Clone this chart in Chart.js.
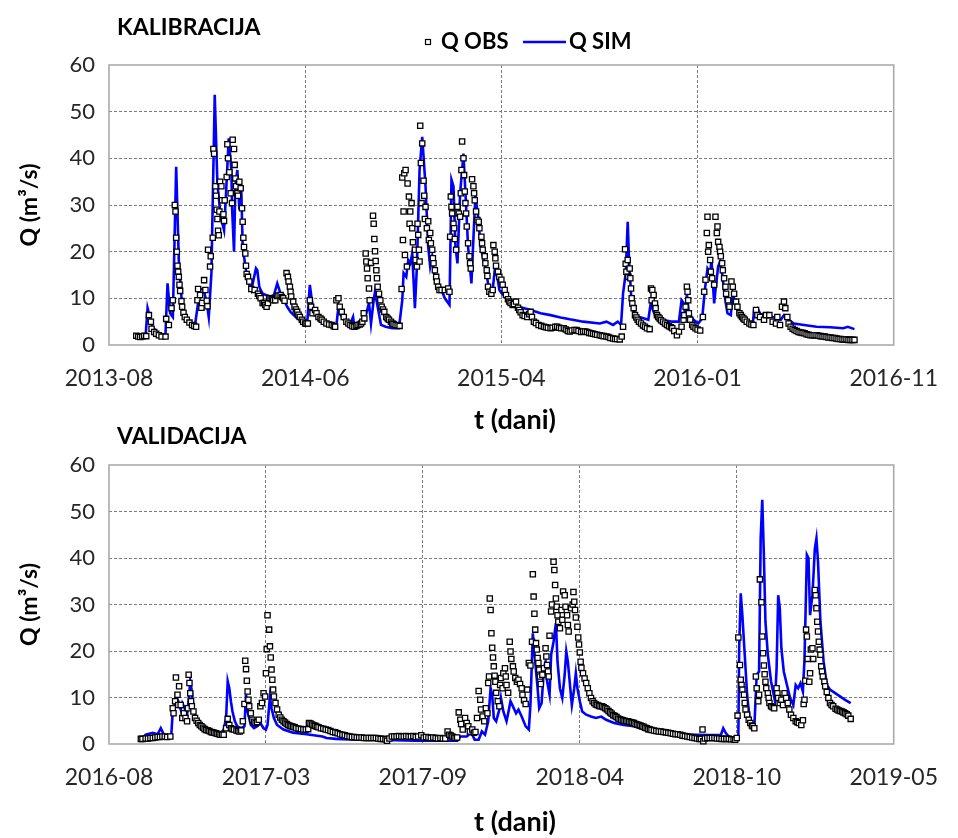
<!DOCTYPE html>
<html>
<head>
<meta charset="utf-8">
<script src="https://cdn.jsdelivr.net/npm/chart.js@4.4.1/dist/chart.umd.min.js"></script>
<style>
  html, body { margin: 0; padding: 0; background: #fff; }
  #wrap { position: relative; width: 958px; height: 838px; }
  canvas { position: absolute; left: 0; display: block; }
  #kalibracija { top: 0; }
  #validacija { top: 419px; }
</style>
</head>
<body>
<div id="wrap">
  <canvas id="kalibracija" width="958" height="450"></canvas>
  <canvas id="validacija" width="958" height="419"></canvas>
</div>
<script>
// Dani racunamo od prvog podioka osi x
const kalStart = Date.UTC(2013, 7, 25);
const kalStep = 295;
const valStart = Date.UTC(2016, 7, 25);
const valStep = 197;

const qTicks = [0, 10, 20, 30, 40, 50, 60];

// Kalibracija - izmjereni protok [dan, Q]
const kalObs = [
  [41,2.0],[44,1.8],[47,1.7],[50,1.8],[53,2.0],[56,1.9],[60,6.4],[63,5.0],[64,3.5],[68,2.8],[71,2.4],[75,2.1],[79,1.8],
  [85,1.8],[86,5.6],[90,4.3],[94,7.9],[96,9.6],[99,30.0],[100,28.6],[101,23.0],[102,20.0],[103,17.0],[104,15.7],[105,14.6],
  [106,12.9],[107,11.6],[109,9.4],[110,8.2],[112,6.9],[114,6.0],[117,5.4],[121,4.8],[125,4.3],[128,4.1],[131,3.9],[133,9.6],
  [134,12.0],[137,10.7],[139,8.0],[140,9.0],[143,13.9],[145,11.8],[147,9.5],[148,8.3],[149,20.4],[152,16.8],[153,19.0],
  [156,23.0],[157,42.0],[158,41.0],[160,34.0],[161,32.0],[162,29.0],[163,27.0],[164,24.5],[165,23.5],[166,28.6],[167,35.0],
  [169,34.0],[170,31.0],[172,28.0],[173,26.6],[174,31.0],[177,36.0],[178,43.0],[179,40.0],[181,37.0],[183,32.5],[185,30.4],
  [186,44.0],[188,42.0],[189,38.6],[190,35.7],[191,34.0],[193,32.5],[194,32.0],[196,35.0],[198,33.6],[200,29.3],[201,26.4],
  [202,23.0],[203,21.0],[205,19.6],[206,17.0],[207,15.2],[209,14.6],[211,13.6],[214,12.0],[219,11.8],[224,11.0],[226,10.5],
  [228,10.0],[231,9.0],[233,9.0],[235,8.6],[237,8.2],[239,9.0],[241,10.0],[243,10.0],[245,9.8],[247,9.6],[250,9.6],[253,10.5],
  [255,10.6],[258,10.7],[260,10.3],[262,10.0],[264,9.5],[267,15.4],[269,14.6],[270,13.6],[272,12.5],[273,11.4],[274,10.4],
  [277,9.3],[279,8.2],[281,7.6],[283,7.1],[285,6.5],[287,6.0],[290,5.4],[292,5.0],[295,4.6],[297,4.6],[299,4.6],[302,9.6],
  [304,8.2],[306,6.8],[310,7.5],[312,6.8],[315,6.0],[318,5.7],[320,5.4],[323,5.0],[327,4.6],[331,4.4],[335,4.3],[338,4.0],
  [340,3.9],[342,9.6],[345,10.0],[347,8.2],[350,7.1],[353,6.0],[357,5.0],[360,4.6],[363,4.3],[366,4.0],[369,3.9],[372,4.1],
  [374,4.3],[377,4.4],[379,4.6],[381,5.0],[383,6.8],[384,5.7],[386,19.6],[387,17.9],[388,16.4],[389,14.3],[391,12.1],[392,9.6],
  [394,17.6],[397,27.7],[398,26.0],[399,22.7],[400,20.1],[401,18.0],[402,16.0],[403,14.3],[404,12.5],[406,11.0],[408,9.6],
  [410,8.2],[412,7.6],[414,7.1],[417,6.0],[419,5.7],[421,5.4],[424,5.0],[426,4.6],[428,4.5],[431,4.3],[434,4.2],[437,4.1],
  [440,12.0],[441,35.9],[442,22.5],[443,28.6],[444,36.8],[445,19.3],[446,37.5],[448,16.8],[449,34.6],[451,31.8],[452,26.0],
  [453,28.6],[455,30.4],[456,25.0],[457,22.0],[460,20.4],[461,18.2],[463,16.8],[464,26.0],[465,23.6],[466,20.4],[467,17.9],
  [468,47.0],[469,39.0],[470,30.4],[471,43.2],[473,35.2],[474,32.0],[475,27.0],[476,29.6],[478,25.0],[480,26.5],[481,22.5],
  [483,24.0],[484,21.8],[486,20.4],[487,18.6],[488,17.5],[490,16.0],[492,14.6],[493,13.6],[495,12.5],[497,11.8],[500,11.8],
  [505,11.8],[510,12.1],[512,11.4],[513,23.2],[514,31.8],[515,29.6],[516,28.2],[518,26.0],[519,25.0],[520,22.7],[522,20.4],
  [524,29.6],[526,28.2],[528,27.5],[529,32.5],[530,37.5],[531,43.6],[533,40.0],[534,36.4],[535,32.9],[536,30.4],[537,28.2],
  [538,25.4],[540,21.8],[542,19.0],[543,17.5],[544,16.4],[546,35.5],[548,34.0],[549,32.5],[550,31.0],[552,28.6],[554,26.8],
  [556,26.4],[557,25.0],[560,23.2],[561,21.8],[562,20.4],[565,19.0],[566,17.5],[568,16.0],[569,14.8],[570,12.5],[572,11.4],
  [575,11.0],[577,11.8],[578,21.4],[580,20.0],[581,18.6],[582,17.0],[585,15.7],[587,14.6],[590,14.0],[592,12.9],[595,11.8],
  [597,10.7],[600,9.8],[602,9.3],[604,9.0],[607,8.6],[609,8.8],[612,9.3],[615,8.0],[617,7.5],[619,7.0],[622,6.4],[625,6.2],
  [629,6.0],[632,6.6],[634,7.1],[636,6.0],[639,5.0],[642,4.7],[646,4.3],[650,4.1],[654,3.9],[657,3.8],[660,3.7],[664,3.6],
  [667,3.7],[671,3.9],[674,3.9],[677,3.7],[680,3.6],[684,3.6],[687,3.3],[690,3.0],[693,2.9],[696,3.1],[700,3.2],[703,3.2],
  [706,3.0],[710,2.8],[713,2.9],[716,2.9],[719,2.8],[722,2.6],[725,2.5],[728,2.4],[731,2.3],[734,2.2],[738,2.1],[741,2.0],
  [744,1.9],[748,1.8],[751,1.7],[754,1.5],[758,1.4],[761,1.3],[764,1.3],[768,1.2],[771,1.8],[773,3.9],[776,20.5],[777,17.4],
  [778,15.7],[780,18.2],[781,14.6],[783,16.4],[784,14.3],[785,12.1],[786,10.0],[787,8.9],[789,7.9],[791,6.4],[793,5.9],
  [795,5.4],[797,5.0],[800,4.6],[803,4.2],[806,3.9],[809,3.6],[813,3.4],[815,12.1],[816,9.6],[817,11.8],[819,10.7],[821,8.9],
  [822,7.9],[824,6.4],[826,6.0],[828,5.7],[830,5.3],[833,5.0],[836,4.6],[839,4.3],[842,4.0],[845,3.8],[847,3.6],[850,3.0],
  [854,2.1],[857,2.9],[861,3.9],[864,5.4],[865,6.4],[867,8.2],[869,12.5],[870,11.4],[871,9.6],[872,6.8],[874,5.4],[877,4.3],
  [879,3.9],[882,3.6],[885,3.3],[889,3.1],[893,6.0],[895,11.4],[897,14.0],[899,24.0],[900,27.5],[901,20.0],[902,21.4],
  [904,18.2],[905,15.7],[907,14.3],[910,12.9],[912,27.5],[914,24.0],[915,25.4],[916,22.1],[918,21.0],[919,20.0],[920,19.0],
  [922,17.5],[923,16.0],[925,14.3],[927,12.5],[928,11.0],[931,9.6],[933,8.2],[936,13.6],[938,12.5],[940,11.0],[943,9.3],
  [945,8.2],[948,6.8],[950,6.4],[952,6.0],[954,5.7],[956,5.4],[959,5.0],[963,4.6],[966,4.4],[969,4.3],[973,7.5],[975,6.4],
  [979,6.0],[985,5.4],[988,6.4],[993,6.4],[998,5.0],[1003,4.6],[1005,6.0],[1009,4.3],[1012,8.2],[1015,9.3],[1017,7.9],
  [1020,6.0],[1022,4.6],[1025,3.9],[1028,3.5],[1031,3.2],[1034,3.0],[1037,2.8],[1040,2.7],[1043,2.6],[1046,2.5],[1049,2.3],
  [1052,2.2],[1055,2.1],[1058,2.1],[1061,2.1],[1064,2.1],[1067,2.0],[1070,1.9],[1073,1.8],[1076,1.8],[1079,1.7],[1082,1.6],
  [1085,1.6],[1088,1.5],[1091,1.5],[1094,1.4],[1097,1.3],[1100,1.3],[1103,1.2],[1106,1.2],[1109,1.2],[1112,1.1],[1115,1.1],
  [1118,1.1],[1121,1.1]
];

// Kalibracija - simulirani protok [dan, Q]
const kalSim = [
  [40,1.8],[55,1.8],[58,7.9],[65,4.0],[77,1.8],[85,2.5],[88,13.2],[92,6.8],[96,6.0],[101,38.2],[105,18.0],[110,8.2],
  [119,5.0],[129,3.9],[133,8.0],[137,12.0],[142,12.0],[147,9.0],[150,6.0],[154,15.4],[159,53.6],[163,34.6],[168,27.5],
  [173,24.6],[176,32.5],[180,44.3],[184,37.5],[185,29.6],[188,20.0],[190,34.0],[193,37.5],[196,29.0],[199,33.0],[201,21.0],
  [204,18.0],[208,14.0],[214,11.8],[221,16.4],[223,16.0],[226,12.5],[228,11.8],[231,11.0],[236,10.7],[243,10.4],[248,10.7],
  [253,13.2],[258,11.0],[263,9.6],[268,8.2],[273,7.1],[283,5.7],[293,5.0],[298,4.6],[302,12.9],[305,9.6],[308,6.8],
  [315,5.7],[322,5.0],[332,4.3],[342,4.3],[345,8.2],[347,6.8],[353,5.4],[362,4.3],[367,6.0],[369,3.9],[374,4.3],[381,4.6],
  [387,6.8],[391,9.0],[394,4.6],[398,9.6],[400,11.4],[404,8.2],[409,4.3],[416,3.9],[426,3.6],[436,3.6],[441,9.6],[443,15.4],
  [447,14.6],[450,18.2],[453,17.5],[456,19.6],[460,7.9],[463,16.8],[467,37.5],[471,44.6],[476,34.0],[480,21.0],[483,16.8],
  [486,19.0],[490,14.0],[495,12.5],[500,11.8],[505,10.0],[512,8.6],[515,35.4],[518,34.0],[521,21.0],[524,17.5],[528,32.5],
  [533,41.0],[536,32.5],[540,21.0],[545,13.2],[549,26.0],[551,32.0],[555,27.5],[559,21.0],[562,19.0],[566,16.8],[570,13.2],
  [574,11.0],[577,11.8],[580,16.0],[584,14.6],[587,11.8],[591,11.0],[595,10.4],[602,9.3],[609,8.6],[619,8.1],[634,7.5],
  [649,6.8],[664,6.4],[679,5.9],[693,5.5],[713,5.0],[738,4.6],[748,5.0],[758,4.3],[765,5.0],[770,4.3],[773,11.0],[777,15.4],
  [780,26.4],[782,18.2],[785,11.0],[787,7.5],[792,6.8],[797,6.0],[805,5.7],[811,5.4],[815,9.3],[817,7.9],[822,6.0],[832,5.4],
  [847,5.0],[857,5.0],[861,9.6],[864,9.0],[867,6.0],[869,11.0],[872,6.8],[879,5.4],[886,4.6],[892,5.7],[896,11.8],[900,16.4],
  [904,15.4],[906,18.2],[910,8.9],[912,11.8],[916,16.8],[919,17.9],[922,15.4],[926,10.4],[930,6.8],[935,6.4],[938,11.0],
  [942,9.0],[946,6.8],[951,6.0],[960,4.6],[968,4.3],[970,7.5],[975,7.9],[980,6.4],[985,6.8],[990,6.4],[998,6.0],[1005,5.7],
  [1010,5.4],[1015,6.4],[1022,5.4],[1030,4.6],[1045,4.3],[1064,3.9],[1084,3.8],[1104,3.6],[1111,3.9],[1121,3.4]
];

// Validacija - izmjereni protok [dan, Q]
const valObs = [
  [40,1.1],[42,1.1],[46,1.2],[49,1.2],[52,1.3],[55,1.3],[58,1.4],[61,1.5],[64,1.5],[67,1.6],[70,1.6],[73,1.5],[77,1.6],
  [80,7.7],[81,6.6],[83,9.2],[84,14.3],[86,10.6],[87,8.4],[88,12.4],[90,8.4],[92,5.6],[94,6.6],[96,5.6],[98,4.9],[99,7.7],
  [100,14.9],[101,13.1],[102,10.9],[103,9.2],[104,8.1],[106,7.0],[108,5.6],[110,5.0],[112,4.5],[114,4.1],[116,3.8],[118,3.5],
  [120,3.2],[122,3.0],[124,2.9],[126,2.8],[128,2.6],[130,2.5],[132,2.4],[134,2.3],[136,2.2],[138,2.1],[140,2.0],[142,2.0],
  [144,2.0],[147,3.4],[149,5.4],[151,4.1],[153,3.4],[155,3.2],[157,3.1],[160,2.9],[162,2.8],[164,2.7],[166,2.9],[168,4.9],
  [170,8.6],[171,17.9],[172,16.1],[173,13.6],[174,11.3],[175,9.5],[176,8.1],[178,6.6],[180,5.2],[182,4.8],[184,4.5],[186,4.7],
  [188,5.2],[190,8.1],[192,8.8],[194,10.9],[196,10.2],[197,15.2],[198,20.4],[199,27.7],[201,24.6],[202,21.0],[203,18.6],
  [204,16.0],[205,13.8],[206,11.7],[207,10.2],[209,8.8],[211,7.4],[213,6.3],[215,5.7],[217,5.2],[219,4.9],[221,4.6],[223,4.3],
  [225,4.1],[227,3.9],[229,3.8],[231,3.7],[233,3.6],[235,3.4],[238,3.3],[241,3.2],[244,3.1],[247,3.1],[250,3.2],[251,4.5],
  [253,4.4],[255,4.2],[257,4.0],[259,3.9],[261,3.7],[263,3.6],[266,3.4],[269,3.3],[272,3.1],[275,3.0],[278,2.8],[281,2.6],
  [284,2.5],[287,2.3],[290,2.1],[293,2.0],[296,1.9],[299,1.7],[302,1.6],[305,1.5],[308,1.5],[311,1.4],[314,1.4],[317,1.4],
  [320,1.3],[323,1.3],[326,1.3],[329,1.3],[332,1.3],[335,1.3],[338,1.2],[341,1.1],[344,1.1],[347,1.0],[349,0.7],[352,1.2],
  [355,1.6],[358,1.6],[361,1.6],[364,1.7],[367,1.6],[370,1.6],[373,1.7],[376,1.6],[379,1.6],[382,1.7],[385,1.5],[388,1.6],
  [392,1.9],[395,1.4],[398,1.5],[401,1.4],[404,1.3],[407,1.4],[410,1.3],[413,1.2],[416,1.3],[419,1.2],[422,1.2],[425,2.7],
  [427,2.0],[429,1.8],[431,1.6],[433,1.4],[435,1.3],[437,1.4],[439,6.8],[441,5.2],[442,4.3],[444,3.1],[447,5.6],[449,4.5],
  [451,3.8],[453,2.7],[456,3.1],[458,2.4],[460,2.6],[462,5.6],[464,11.4],[466,9.5],[467,7.4],[469,5.9],[471,4.9],[473,7.7],
  [475,6.6],[476,13.1],[477,14.5],[478,31.3],[479,28.8],[480,23.8],[481,20.7],[482,18.6],[483,16.7],[484,14.7],[485,13.4],
  [486,11.0],[488,9.2],[490,8.1],[491,12.7],[492,14.2],[494,12.0],[495,15.2],[497,16.3],[498,14.5],[499,12.7],[501,11.0],
  [503,22.0],[504,19.9],[505,18.3],[507,16.7],[508,15.6],[510,14.2],[512,13.4],[514,13.8],[516,12.9],[518,12.0],[519,10.6],
  [521,9.4],[523,8.6],[525,11.7],[527,17.4],[529,16.9],[531,22.0],[532,36.5],[533,31.7],[534,28.0],[535,24.6],[536,21.7],
  [537,20.3],[538,18.5],[539,17.4],[540,16.0],[541,14.5],[542,12.9],[544,14.9],[546,16.3],[548,20.6],[549,18.8],[550,17.0],
  [551,15.6],[552,14.5],[553,23.3],[555,28.5],[556,30.0],[558,39.2],[559,37.4],[560,34.2],[561,31.3],[562,29.5],[563,27.7],
  [564,26.3],[566,24.9],[568,28.8],[569,26.7],[570,32.8],[572,32.0],[573,29.5],[575,27.7],[576,25.6],[577,24.2],[580,29.2],
  [582,30.0],[583,32.7],[584,30.6],[585,28.8],[586,27.2],[588,25.2],[589,22.9],[590,21.4],[591,19.7],[592,17.7],[593,16.4],
  [595,15.2],[597,14.1],[599,13.1],[601,12.0],[603,10.9],[605,9.9],[607,9.2],[609,8.8],[611,8.5],[613,8.4],[615,8.2],
  [617,8.1],[619,8.1],[621,7.9],[623,7.7],[625,7.4],[627,7.1],[629,6.8],[631,6.5],[633,6.2],[635,6.0],[637,5.8],[639,5.5],
  [641,5.3],[643,5.2],[645,5.1],[647,5.0],[649,4.9],[651,4.9],[653,4.8],[655,4.7],[657,4.6],[659,4.5],[661,4.3],[663,4.2],
  [665,4.1],[667,4.0],[669,3.8],[671,3.7],[673,3.5],[675,3.4],[677,3.2],[679,3.1],[681,3.0],[684,2.9],[687,2.8],[690,2.7],
  [693,2.7],[696,2.6],[699,2.5],[702,2.4],[705,2.3],[708,2.2],[711,2.1],[714,2.1],[717,2.0],[720,1.8],[723,1.7],[726,1.6],
  [729,1.5],[732,1.4],[735,1.3],[738,1.2],[741,1.1],[743,1.1],[745,3.1],[746,0.6],[748,1.2],[751,1.3],[754,1.3],[757,1.3],
  [760,1.3],[763,1.2],[766,1.2],[769,1.1],[772,1.1],[775,1.1],[778,1.1],[781,1.0],[784,1.0],[786,0.9],[788,1.3],[789,6.1],
  [790,22.9],[792,17.0],[793,13.8],[794,12.7],[795,11.7],[797,10.6],[798,8.8],[799,7.4],[801,6.3],[803,5.2],[805,4.5],
  [807,4.0],[808,3.8],[810,3.4],[812,14.5],[813,12.0],[815,9.2],[816,10.6],[817,35.4],[819,30.5],[820,23.1],[821,19.5],
  [822,16.9],[823,15.0],[824,13.4],[825,12.0],[827,10.9],[828,9.9],[829,8.8],[831,8.1],[833,7.9],[835,7.7],[838,12.0],
  [839,10.9],[840,9.9],[842,8.8],[844,9.5],[846,8.4],[848,10.9],[850,9.9],[852,8.8],[854,7.4],[856,6.3],[859,5.6],[862,4.9],
  [864,4.7],[866,4.5],[869,4.1],[871,5.1],[872,8.6],[873,9.5],[874,13.6],[875,24.6],[876,23.1],[877,18.3],[879,13.4],
  [880,15.2],[881,20.3],[883,20.6],[884,18.3],[886,33.1],[887,32.0],[888,29.2],[889,26.3],[890,24.2],[891,22.0],[892,20.3],
  [893,19.2],[894,16.7],[895,15.6],[896,14.5],[898,13.4],[899,12.4],[901,11.2],[903,9.9],[905,8.8],[907,8.4],[909,8.1],
  [912,7.6],[914,7.4],[916,7.2],[918,7.1],[920,7.0],[922,6.8],[924,6.6],[926,6.4],[928,6.1],[931,5.4]
];

// Validacija - simulirani protok [dan, Q]
const valSim = [
  [40,0.9],[46,2.0],[55,2.4],[61,2.1],[65,3.4],[69,2.0],[75,1.6],[78,1.4],[80,7.0],[83,8.8],[84,10.2],[87,9.2],[90,7.4],
  [92,8.8],[95,7.7],[98,6.3],[100,9.5],[102,13.5],[104,11.3],[106,7.7],[109,5.6],[112,4.5],[118,3.6],[124,2.9],[133,2.4],
  [141,2.4],[144,3.1],[147,5.6],[149,13.5],[151,12.0],[153,9.2],[155,7.0],[158,4.9],[161,3.8],[166,3.4],[170,3.8],[172,10.7],
  [174,7.0],[178,4.1],[182,3.4],[186,3.8],[190,4.5],[194,3.4],[197,3.1],[199,4.1],[202,10.2],[204,7.7],[207,5.6],[211,4.1],
  [219,3.1],[231,2.4],[248,2.1],[268,1.6],[273,1.3],[285,1.1],[310,0.9],[334,0.9],[359,0.8],[384,0.7],[437,0.7],[441,1.6],
  [449,1.6],[455,2.4],[459,0.9],[464,0.9],[468,2.7],[472,2.0],[476,4.9],[479,12.0],[481,10.6],[483,5.6],[486,4.9],[490,7.4],
  [492,9.9],[495,7.0],[499,4.9],[502,7.4],[504,9.2],[507,8.1],[511,6.6],[514,7.4],[518,5.9],[523,3.8],[527,3.1],[529,8.4],
  [532,23.8],[535,17.7],[538,12.0],[540,7.7],[543,8.8],[546,16.3],[548,17.7],[550,13.4],[553,10.6],[555,19.2],[558,22.0],
  [561,26.0],[563,17.7],[566,12.0],[569,9.9],[572,14.9],[574,19.9],[576,17.7],[579,12.0],[581,8.4],[584,12.0],[586,15.2],
  [588,12.0],[591,9.2],[594,7.0],[599,6.3],[605,5.9],[611,5.6],[618,5.9],[624,5.2],[634,4.5],[646,4.1],[659,3.8],[671,3.1],
  [688,2.7],[704,2.4],[720,2.1],[737,2.0],[753,1.9],[768,1.9],[771,3.4],[774,2.4],[778,1.6],[784,1.3],[788,0.9],[790,2.0],
  [791,20.6],[793,32.4],[795,27.7],[798,19.2],[801,10.6],[804,5.6],[807,3.8],[810,3.4],[813,14.9],[816,15.6],[818,44.2],
  [820,52.5],[822,40.7],[824,26.3],[827,19.2],[831,13.5],[836,9.2],[838,16.3],[840,32.0],[842,29.2],[844,20.6],[847,15.6],
  [851,12.7],[855,9.9],[859,8.4],[862,12.7],[865,12.0],[868,13.1],[871,11.3],[873,18.1],[876,40.7],[878,40.0],[880,27.7],
  [883,32.0],[886,42.0],[888,44.2],[890,39.2],[893,26.3],[897,17.7],[901,12.7],[905,11.7],[912,10.9],[918,10.2],[924,9.5],
  [931,8.8]
];

const FONT = "Lato";
const TEXT = "#262626";

function monthLabel(start, day) {
  const d = new Date(start + day * 86400000);
  return d.getUTCFullYear() + "-" + String(d.getUTCMonth() + 1).padStart(2, "0");
}

const toXY = arr => arr.map(([x, y]) => ({ x, y }));

// Okvir, naslovi i legenda panela
const panelDecor = {
  id: "panelDecor",
  beforeDatasetsDraw(chart) {
    const { ctx, chartArea: a } = chart;
    ctx.save();
    ctx.strokeStyle = "#ababab";
    ctx.lineWidth = 1.6;
    ctx.strokeRect(a.left, a.top, a.right - a.left, a.bottom - a.top);
    ctx.restore();
  },
  afterDraw(chart, args, opts) {
    const { ctx, chartArea: a } = chart;
    ctx.save();
    ctx.fillStyle = "#000";
    ctx.textBaseline = "middle";

    ctx.font = "bold 23px " + FONT;
    ctx.textAlign = "left";
    ctx.fillText(opts.title, 117, opts.titleY);

    // naslov osi y
    ctx.save();
    ctx.translate(30, (a.top + a.bottom) / 2);
    ctx.rotate(-Math.PI / 2);
    ctx.textAlign = "center";
    ctx.font = "bold 23px " + FONT;
    ctx.fillText("Q (m\u00b3/s)", 0, 0);
    ctx.restore();

    // naslov osi x
    ctx.textAlign = "center";
    ctx.font = "bold 27px " + FONT;
    ctx.fillText("t (dani)", 515, opts.xTitleY);

    if (opts.legend) {
      const y = 42;
      ctx.fillStyle = "#fff";
      ctx.strokeStyle = "#000";
      ctx.lineWidth = 1.2;
      ctx.fillRect(425.5, y - 2.5, 5, 5);
      ctx.strokeRect(425.5, y - 2.5, 5, 5);
      ctx.fillStyle = "#000";
      ctx.textAlign = "left";
      ctx.font = "bold 22px " + FONT;
      ctx.fillText("Q OBS", 441, y);
      ctx.strokeStyle = "#0000ff";
      ctx.lineWidth = 2.6;
      ctx.beginPath();
      ctx.moveTo(523, y);
      ctx.lineTo(566, y);
      ctx.stroke();
      ctx.fillText("Q SIM", 569, y);
    }
    ctx.restore();
  }
};

function buildPanel({ idCanvas, obs, sim, start, step, nSteps, area, decor }) {
  const canvas = document.getElementById(idCanvas);
  const H = canvas.height;
  const xMax = step * nSteps;
  const hideEdge = (ctx, last) => (ctx.index === 0 || ctx.index === last) ? "rgba(0,0,0,0)" : "#7c7c7c";

  return new Chart(canvas.getContext("2d"), {
    type: "scatter",
    data: {
      datasets: [
        {
          label: "Q OBS",
          data: toXY(obs),
          pointStyle: "rect",
          pointRadius: 3.7,
          pointBorderWidth: 1.3,
          borderColor: "#000",
          backgroundColor: "#fff",
          clip: false
        },
        {
          label: "Q SIM",
          data: toXY(sim),
          showLine: true,
          borderColor: "#0000ff",
          borderWidth: 2.6,
          pointRadius: 0,
          tension: 0
        }
      ]
    },
    options: {
      responsive: false,
      maintainAspectRatio: false,
      animation: false,
      events: [],
      layout: { padding: { top: area.top, right: 958 - area.right, left: 0, bottom: 0 } },
      scales: {
        x: {
          type: "linear",
          min: 0,
          max: xMax,
          afterFit: s => { s.height = H - area.bottom; },
          afterBuildTicks: s => { s.ticks = Array.from({ length: nSteps + 1 }, (_, i) => ({ value: i * step })); },
          ticks: {
            padding: 20,
            color: TEXT,
            font: { family: FONT, size: 23 },
            maxRotation: 0,
            callback: v => monthLabel(start, v)
          },
          grid: { drawTicks: false, lineWidth: 1, color: c => hideEdge(c, nSteps) },
          border: { display: false, dash: [3, 2] }
        },
        y: {
          min: 0,
          max: 60,
          afterFit: s => { s.width = area.left; },
          afterBuildTicks: s => { s.ticks = qTicks.map(v => ({ value: v })); },
          ticks: {
            padding: 14,
            color: TEXT,
            font: { family: FONT, size: 22 }
          },
          grid: { drawTicks: false, lineWidth: 1, color: c => hideEdge(c, qTicks.length - 1) },
          border: { display: false, dash: [3, 2] }
        }
      },
      plugins: {
        legend: { display: false },
        tooltip: { enabled: false },
        panelDecor: decor
      }
    },
    plugins: [panelDecor]
  });
}

buildPanel({
  idCanvas: "kalibracija",
  obs: kalObs,
  sim: kalSim,
  start: kalStart,
  step: kalStep,
  nSteps: 4,
  area: { left: 109, top: 65, right: 905, bottom: 345 },
  decor: { title: "KALIBRACIJA", titleY: 28, xTitleY: 420, legend: true }
});

buildPanel({
  idCanvas: "validacija",
  obs: valObs,
  sim: valSim,
  start: valStart,
  step: valStep,
  nSteps: 5,
  area: { left: 109, top: 46, right: 907, bottom: 325 },
  decor: { title: "VALIDACIJA", titleY: 18, xTitleY: 403, legend: false }
});
</script>
</body>
</html>
